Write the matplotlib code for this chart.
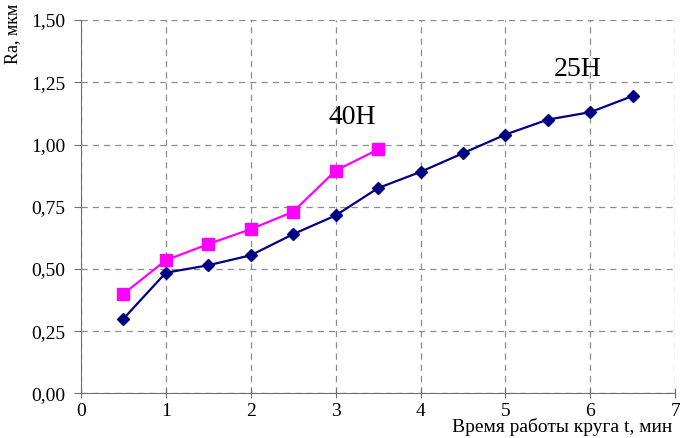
import matplotlib.pyplot as plt
from matplotlib.ticker import FuncFormatter, MultipleLocator

# =========================================================
# Data
# =========================================================

t_25 = [0.5, 1.0, 1.5, 2.0, 2.5, 3.0, 3.5, 4.0, 4.5, 5.0, 5.5, 6.0, 6.5]
ra_25 = [0.30, 0.485, 0.515, 0.555, 0.64, 0.715, 0.825, 0.89, 0.965, 1.04, 1.10, 1.13, 1.195]

t_40 = [0.5, 1.0, 1.5, 2.0, 2.5, 3.0, 3.5]
ra_40 = [0.40, 0.535, 0.60, 0.66, 0.73, 0.895, 0.98]

# =========================================================
# Figure
# =========================================================

plt.rcParams["font.family"] = ["Liberation Serif", "DejaVu Serif"]

fig = plt.figure(figsize=(6.8, 4.38), dpi=100)
ax = fig.add_axes([0.119, 0.1016, 0.874, 0.8527])

ax.plot(t_40, ra_40, color="#FF00FF", lw=1.6, marker="s", ms=8, zorder=3)
ax.plot(t_25, ra_25, color="#000080", lw=1.6, marker="D", ms=6, zorder=3)

ax.text(3.2, 1.11, "40H", fontsize=20, ha="center", va="center")
ax.text(5.85, 1.30, "25H", fontsize=20, ha="center", va="center")

ax.set_xlim(0, 7)
ax.set_ylim(0, 1.5)
ax.xaxis.set_major_locator(MultipleLocator(1))
ax.yaxis.set_major_locator(MultipleLocator(0.25))
ax.yaxis.set_major_formatter(FuncFormatter(lambda v, p: f"{v:.2f}".replace(".", ",")))

ax.grid(True, color="#8c8c8c", linestyle=(0, (5, 4)), lw=0.9)
ax.set_axisbelow(True)

for side in ["top", "right"]:
    ax.spines[side].set_visible(False)
for side in ["left", "bottom"]:
    ax.spines[side].set_color("#707070")

ax.tick_params(axis="x", direction="inout", length=7, color="#707070", labelsize=14, pad=3)
ax.tick_params(axis="y", direction="out", length=5, color="#707070", labelsize=14, pad=6)

fig.text(0.018, 0.922, "Ra, мкм", rotation=90, fontsize=13, ha="center", va="center")
fig.text(0.988, 0.004, "Время работы круга t, мин", fontsize=14, ha="right", va="bottom")

fig.savefig("out.png", dpi=100)
